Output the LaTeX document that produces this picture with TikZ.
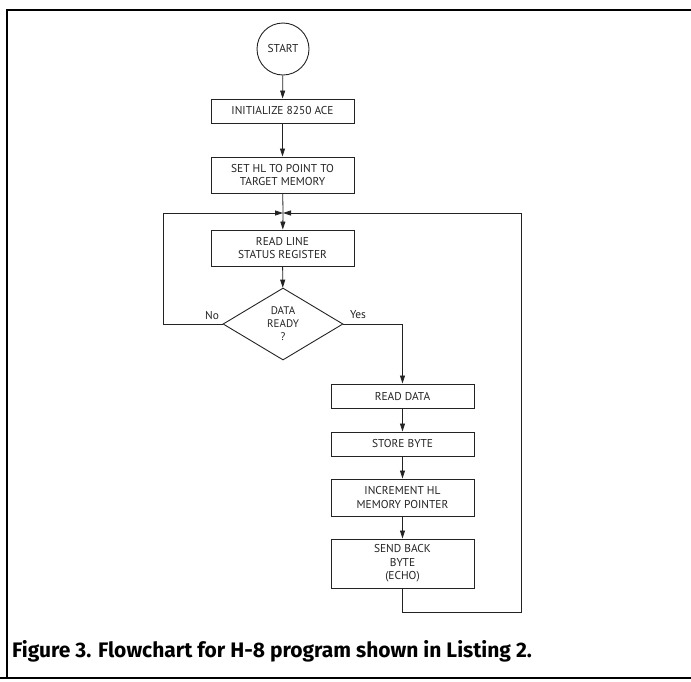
\documentclass[tikz,border=0pt]{standalone}
\usepackage{fontspec}
\setmainfont{PT Sans}
\newfontfamily\capfont{Fira Sans}
\usepackage{tikz}
\usetikzlibrary{arrows.meta, shapes.geometric}
\definecolor{figK}{RGB}{35,35,35}
\tikzset{
  procbox/.style={draw=figK, line width=0.9pt, minimum width=143pt, inner sep=0pt,
    align=center, font=\fontsize{11.4}{13.5}\selectfont, text=figK},
  decbox/.style={draw=figK, line width=0.9pt, diamond, aspect=1.67, minimum width=120pt,
    minimum height=72pt, inner sep=0pt, align=center, font=\fontsize{11}{13}\selectfont, text=figK},
  termnode/.style={draw=figK, line width=0.9pt, circle, minimum size=52pt, inner sep=0pt,
    font=\fontsize{11.4}{13}\selectfont, text=figK},
  flow/.style={draw=figK, line width=0.8pt, -{Triangle[width=5pt,length=8pt]}},
  plain/.style={draw=figK, line width=0.8pt},
  branch/.style={font=\fontsize{11.4}{13}\selectfont, text=figK}
}

\begin{document}
\begin{tikzpicture}[x=1pt, y=-1pt]
\useasboundingbox (0,0) rectangle (691,681);
% frame round the figure
\draw[line width=1.6pt] (691,10) -- (7,10) -- (7,678);
\draw[line width=2pt] (0,678) -- (691,678);
% main column
\node[termnode] (start) at (283,49) {START};
\node[procbox, minimum height=24pt] (init) at (282.5,111) {INITIALIZE 8250 ACE};
\node[procbox, minimum height=36pt] (sethl) at (282.5,175) {SET HL TO POINT TO\\TARGET MEMORY};
\node[procbox, minimum height=36pt] (rdline) at (282.5,248) {READ LINE\\STATUS REGISTER};
\node[decbox] (ready) at (283,324) {DATA\\READY\\?};
% right column
\node[procbox, minimum height=24pt] (rddata) at (402.5,396) {READ DATA};
\node[procbox, minimum height=24pt] (store) at (402.5,444) {STORE BYTE};
\node[procbox, minimum height=37pt] (inchl) at (402.5,497.5) {INCREMENT HL\\MEMORY POINTER};
\node[procbox, minimum height=49pt] (echo) at (402.5,563.5) {SEND BACK\\BYTE\\(ECHO)};
% loop corners
\coordinate (join) at (283,213);
\coordinate (nw) at (163,213);
\coordinate (ne) at (521,213);
\coordinate (se) at (521,612);
\coordinate (yesturn) at (402.5,324);
% connectors
\draw[flow] (start) -- (init);
\draw[flow] (init) -- (sethl);
\draw[plain] (sethl) -- (join);
\draw[flow] (join) -- (rdline);
\draw[flow] (rdline) -- (ready);
\draw[flow] (ready.west) -- (ready.west -| nw) -- (nw) -- (join);
\draw[flow] (ready.east) -- (yesturn) -- (rddata);
\draw[flow] (rddata) -- (store);
\draw[flow] (store) -- (inchl);
\draw[flow] (inchl) -- (echo);
\draw[flow] (echo.south) |- (se) -- (ne) -- (join);
% branch labels
\node[branch] (nolbl) at (212,316) {No};
\node[branch] (yeslbl) at (358,315) {Yes};
% caption
\node[anchor=base west, inner sep=0pt, font=\capfont\bfseries\fontsize{21}{24}\selectfont] (cap) at (12,657) {Figure 3. Flowchart for H-8 program shown in Listing 2.};
\end{tikzpicture}
\end{document}
